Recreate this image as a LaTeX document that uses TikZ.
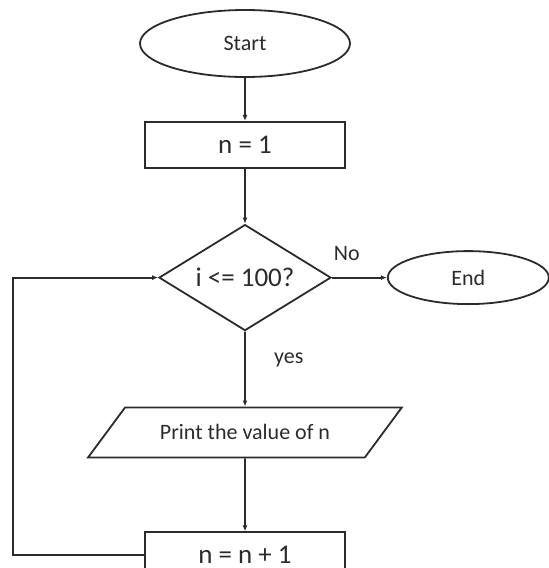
\documentclass[tikz,border=0pt]{standalone}
\usepackage{fontspec}
\setmainfont{Carlito}
\definecolor{flowink}{HTML}{2B2B2B}
\usetikzlibrary{arrows.meta,positioning,shapes.geometric}

\begin{document}
\begin{tikzpicture}[
    x=1pt, y=1pt,
    terminal/.style={draw=flowink, ellipse, line width=1.8pt, inner sep=0pt,
                     text=flowink, font=\fontsize{22}{26}\selectfont},
    process/.style={draw=flowink, rectangle, line width=1.8pt, minimum width=200pt,
                    minimum height=46pt, text=flowink, font=\fontsize{27}{32}\selectfont},
    decision/.style={draw=flowink, diamond, line width=1.8pt, aspect=1.62, inner sep=0pt,
                     minimum width=172pt, minimum height=106pt,
                     text=flowink, font=\fontsize{27}{32}\selectfont},
    io/.style={draw=flowink, trapezium, trapezium left angle=39, trapezium right angle=141,
               trapezium stretches=true, line width=1.8pt, minimum width=314pt,
               minimum height=50pt, text=flowink, font=\fontsize{22}{26}\selectfont},
    arrow/.style={-{Latex[length=6pt,width=5pt]}, line width=1.8pt, draw=flowink},
    branch/.style={text=flowink, font=\fontsize{22}{26}\selectfont}
]

\useasboundingbox (0,0) rectangle (549,-568);

% ── Main column ──
\node[terminal, minimum width=210pt, minimum height=67pt] (start) at (245,-43.5) {Start};

\node[process, below=43pt of start] (init) {n = 1};

\node[decision, below=55pt of init] (test) {i <= 100?};

\node[io, below=75pt of test] (print) {Print the value of n};

\node[process, below=73pt of print] (step) {n = n + 1};

% ── Exit ──
\node[terminal, minimum width=161pt, minimum height=53pt, right=55pt of test] (stop) {End};

% ── Arrows ──
\draw[arrow] (start) -- (init);
\draw[arrow] (init) -- (test);
\draw[arrow] (test) -- node[branch, pos=0.38, right=25pt] {yes} (print);
\draw[arrow] (print) -- (step);
\draw[arrow] (test) -- node[branch, pos=0.27, above=13pt] {No} (stop);

% ── Loop back ──
\draw[arrow] (step.west) -- ++(-131,0) |- (test.west);

\end{tikzpicture}
\end{document}
